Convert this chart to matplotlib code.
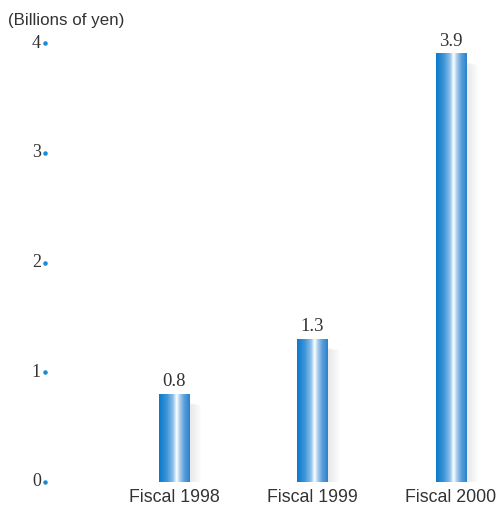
import numpy as np
import matplotlib.pyplot as plt
from matplotlib.colors import LinearSegmentedColormap
from matplotlib.patches import Rectangle

categories = ["Fiscal 1998", "Fiscal 1999", "Fiscal 2000"]
values = [0.8, 1.3, 3.9]
value_labels = ["0.8", "1.3", "3.9"]
yticks = [0, 1, 2, 3, 4]
unit_label = "(Billions of yen)"

TEXT = "#333333"
DOT = "#1a8ad4"

# cylinder-like shading across each bar
bar_cmap = LinearSegmentedColormap.from_list(
    "cyl",
    [(0.0, "#0b79cb"), (0.25, "#3d95d8"), (0.45, "#8dbfe9"),
     (0.57, "#ffffff"), (0.68, "#a6cbec"), (0.82, "#5a9edb"), (1.0, "#2a82cc")])

fig = plt.figure(figsize=(4.99, 5.08), dpi=100)
ax = fig.add_axes([45 / 499, 26 / 508, 454 / 499, 439 / 508])
ax.set_xlim(-0.931, 2.347)
ax.set_ylim(0, 4)
ax.axis("off")

width = 0.217
shade = np.linspace(0, 1, 200).reshape(1, -1)
for i, v in enumerate(values):
    x0 = i - width / 2
    # soft shadow to the right of the bar
    for k in range(8):
        ax.add_patch(Rectangle((x0 + width, -0.03 + 0.004 * k),
                               0.011 * (k + 1), v - 0.04 - 0.008 * k,
                               facecolor="#000000", alpha=0.011,
                               edgecolor="none", zorder=1))
    ax.imshow(shade, cmap=bar_cmap, aspect="auto",
              extent=(x0, x0 + width, 0, v), zorder=2, interpolation="bilinear")
    ax.text(i, v + 0.04, value_labels[i], ha="center", va="bottom",
            family="Liberation Serif", fontsize=13.5, color=TEXT)
    ax.text(i, -0.06, categories[i], ha="center", va="top",
            family="Liberation Sans", fontsize=12.8, color=TEXT)

ax.set_xlim(-0.931, 2.347)
ax.set_ylim(0, 4)

for t in yticks:
    ax.scatter([-0.931], [t], s=5, color=DOT, zorder=3, clip_on=False)
    ax.text(-0.931 - 0.03, t, str(t), ha="right", va="center",
            family="Liberation Serif", fontsize=13, color=TEXT)

fig.text(8 / 499, 1 - 20 / 508, unit_label, ha="left", va="center",
         family="Liberation Sans", fontsize=12.2, color=TEXT)

fig.savefig("out.png", dpi=100)
